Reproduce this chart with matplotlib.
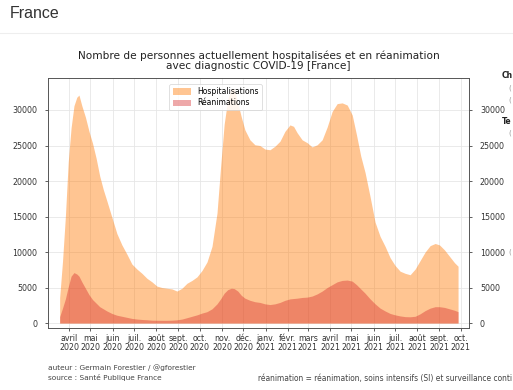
import matplotlib
matplotlib.use("Agg")
import matplotlib.pyplot as plt
import pandas as pd

# ---- data (approx. weekly) ----
dates = [
    "2020-03-19", "2020-03-23", "2020-03-27", "2020-03-31", "2020-04-04", "2020-04-08",
    "2020-04-12", "2020-04-15", "2020-04-19", "2020-04-24", "2020-04-29", "2020-05-04",
    "2020-05-09", "2020-05-14", "2020-05-19", "2020-05-24", "2020-05-31", "2020-06-07",
    "2020-06-14", "2020-06-21", "2020-06-28", "2020-07-05", "2020-07-12", "2020-07-19",
    "2020-07-26", "2020-08-02", "2020-08-09", "2020-08-16", "2020-08-23", "2020-08-30",
    "2020-09-06", "2020-09-13", "2020-09-20", "2020-09-27", "2020-10-04", "2020-10-11",
    "2020-10-18", "2020-10-25", "2020-10-30", "2020-11-04", "2020-11-09", "2020-11-14",
    "2020-11-18", "2020-11-23", "2020-11-28", "2020-12-03", "2020-12-10", "2020-12-17",
    "2020-12-24", "2020-12-31", "2021-01-07", "2021-01-14", "2021-01-21", "2021-01-28",
    "2021-02-04", "2021-02-09", "2021-02-14", "2021-02-21", "2021-02-28", "2021-03-07",
    "2021-03-14", "2021-03-21", "2021-03-28", "2021-04-04", "2021-04-11", "2021-04-18",
    "2021-04-25", "2021-05-02", "2021-05-08", "2021-05-14", "2021-05-20", "2021-05-27",
    "2021-06-03", "2021-06-10", "2021-06-17", "2021-06-24", "2021-07-01", "2021-07-08",
    "2021-07-15", "2021-07-22", "2021-07-29", "2021-08-05", "2021-08-12", "2021-08-19",
    "2021-08-26", "2021-09-01", "2021-09-08", "2021-09-15", "2021-09-22", "2021-09-27",
]
hospitalisations = [
    3600, 8700, 15000, 22700, 27500, 30600,
    31800, 32100, 30600, 29000, 27000, 25300,
    23200, 20700, 18800, 17200, 14900, 12600,
    11000, 9700, 8300, 7600, 7000, 6300,
    5800, 5200, 5000, 4900, 4800, 4500,
    4900, 5600, 6000, 6500, 7400, 8600,
    10800, 15500, 22000, 28000, 31500, 33000,
    33000, 31000, 29000, 27200, 25800, 25100,
    25000, 24500, 24400, 24900, 25600, 27000,
    27900, 27700, 26800, 25800, 25400, 24800,
    25100, 25800, 27600, 29800, 30900, 31000,
    30700, 29300, 26500, 23500, 21200, 17800,
    14200, 12200, 10800, 9200, 8100, 7300,
    7000, 6800, 7600, 8800, 10000, 10900,
    11200, 11000, 10300, 9400, 8500, 8000,
]
reanimations = [
    900, 2100, 3400, 5100, 6600, 7100,
    6900, 6600, 5800, 4900, 4000, 3300,
    2800, 2300, 2000, 1700, 1350, 1100,
    950, 800, 650, 560, 500, 460,
    400, 390, 380, 380, 400, 450,
    560, 750, 950, 1150, 1400, 1600,
    2000, 2700, 3400, 4200, 4700, 4900,
    4850, 4500, 3900, 3500, 3200, 3000,
    2900, 2700, 2600, 2700, 2900, 3200,
    3400, 3450, 3500, 3600, 3650, 3800,
    4100, 4500, 5000, 5400, 5800, 6000,
    6050, 5900, 5400, 4800, 4200, 3400,
    2700, 2100, 1700, 1350, 1150, 1000,
    900, 880, 950, 1300, 1750, 2100,
    2300, 2300, 2200, 2000, 1800, 1600,
]
month_labels = [
    "avril\n2020", "mai\n2020", "juin\n2020", "juil.\n2020", "août\n2020",
    "sept.\n2020", "oct.\n2020", "nov.\n2020", "déc.\n2020", "janv.\n2021",
    "févr.\n2021", "mars\n2021", "avril\n2021", "mai\n2021", "juin\n2021",
    "juil.\n2021", "août\n2021", "sept.\n2021", "oct.\n2021",
]
y_ticks = [0, 5000, 10000, 15000, 20000, 25000, 30000]

x = pd.to_datetime(dates)
month_ticks = pd.date_range("2020-04-01", "2021-10-01", freq="MS")

fig = plt.figure(figsize=(5.13, 3.9), dpi=100)
ax = fig.add_axes([0.0926, 0.1597, 0.8226, 0.6411])

ax.fill_between(x, hospitalisations, color="C1", alpha=0.45, lw=0, label="Hospitalisations")
ax.fill_between(x, reanimations, color="C3", alpha=0.4, lw=0, label="Réanimations")

ax.set_xlim(pd.Timestamp("2020-03-02"), pd.Timestamp("2021-10-13"))
ax.set_ylim(-660, 34550)
ax.set_xticks(month_ticks)
ax.set_xticklabels(month_labels, fontsize=5.7, color="#333333", linespacing=1.0)
ax.set_yticks(y_ticks)
ax.set_yticklabels([str(v) for v in y_ticks], fontsize=5.7, color="#333333")
ax.tick_params(axis="both", length=2.5, width=0.6, color="#444444", pad=2)
ax.tick_params(axis="y", right=True, labelright=True, pad=5)
ax.grid(color="#e6e6e6", lw=0.6)
ax.set_axisbelow(True)
for sp in ax.spines.values():
    sp.set_color("#555555")
    sp.set_linewidth(0.7)

ax.set_title("Nombre de personnes actuellement hospitalisées et en réanimation\n"
             "avec diagnostic COVID-19 [France]", fontsize=7.6, color="#222222",
             linespacing=1.0, pad=6)

leg = ax.legend(loc="upper left", bbox_to_anchor=(0.28, 0.99), fontsize=5.5,
                handlelength=2.4, handleheight=0.9, borderpad=0.4, labelspacing=0.3,
                framealpha=0.85, edgecolor="#cccccc", fancybox=True)
leg.get_frame().set_linewidth(0.5)

# page elements around the chart
fig.text(10 / 513, 1 - 13 / 390, "France", fontsize=11.5, family="Liberation Sans",
         color="#333333", va="center", ha="left")
fig.add_artist(plt.Line2D([0, 1], [1 - 33 / 390] * 2, color="#eeeeee", lw=0.8))
fig.text(48 / 513, 1 - 368 / 390, "auteur : Germain Forestier / @gforestier",
         fontsize=5.3, color="#444444", va="center")
fig.text(48 / 513, 1 - 377.5 / 390, "source : Santé Publique France",
         fontsize=5.3, color="#444444", va="center")
fig.text(258 / 513, 1 - 378 / 390,
         "réanimation = réanimation, soins intensifs (SI) et surveillance conti",
         fontsize=5.45, color="#444444", va="center")
fig.text(502 / 513, 1 - 76 / 390, "Ch", fontsize=5.5, weight="bold",
         color="#222222", va="center")
fig.text(502 / 513, 1 - 121 / 390, "Te", fontsize=5.5, weight="bold",
         color="#222222", va="center")
for yy in [88, 100, 133, 252]:
    fig.text(508 / 513, 1 - yy / 390, "(", fontsize=5, color="#999999", va="center")

fig.savefig("out.png", dpi=100)
